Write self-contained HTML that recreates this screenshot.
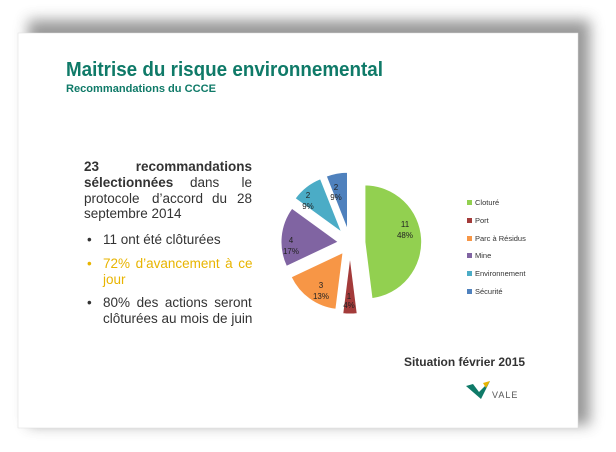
<!DOCTYPE html>
<html><head><meta charset="utf-8"><style>
html,body{margin:0;padding:0;background:#fff;}
svg{display:block;}
</style></head><body>
<svg width="616" height="452" viewBox="0 0 616 452" xmlns="http://www.w3.org/2000/svg" font-family="Liberation Sans, sans-serif">
<defs>
<filter id="sh" x="-10%" y="-10%" width="125%" height="125%">
<feGaussianBlur stdDeviation="7"/>
</filter>
</defs>
<rect x="0" y="0" width="616" height="452" fill="#fff"/>
<rect x="28" y="20" width="562" height="405" fill="#555" filter="url(#sh)" opacity="0.6"/>
<rect x="18" y="33" width="560" height="395" fill="#fff" stroke="#ddd" stroke-width="0.5"/>
<text x="66" y="76" font-size="20" font-weight="bold" fill="#0f7a68" textLength="317" lengthAdjust="spacingAndGlyphs">Maitrise du risque environnemental</text>
<text x="66" y="92" font-size="11" font-weight="bold" fill="#0f7a68" textLength="150" lengthAdjust="spacingAndGlyphs">Recommandations du CCCE</text>

<g font-size="13.5" fill="#333">
<text x="84" y="171" font-weight="bold">23</text>
<text x="252" y="171" font-weight="bold" text-anchor="end">recommandations</text>
<text x="84" y="187" font-weight="bold">sélectionnées</text>
<text x="190" y="187">dans</text>
<text x="252" y="187" text-anchor="end">le</text>
<text x="84" y="203">protocole</text>
<text x="152" y="203">d’accord</text>
<text x="212" y="203">du</text>
<text x="252" y="203" text-anchor="end">28</text>
<text x="84" y="218">septembre 2014</text>
<text x="87" y="244">•</text>
<text x="103" y="244">11 ont été clôturées</text>
<text x="87" y="268" fill="#e8b400">•</text>
<text x="103" y="268" fill="#e8b400" word-spacing="1.8">72% d’avancement à ce</text>
<text x="103" y="284" fill="#e8b400">jour</text>
<text x="87" y="307">•</text>
<text x="103" y="307" word-spacing="2.8">80% des actions seront</text>
<text x="103" y="323">clôturées au mois de juin</text>
</g>

<g stroke="#fff" stroke-width="0.8">
<path d="M365,242 L365,185 A57,57 0 0 1 372.1,298.5 Z" fill="#92d050"/>
<path d="M350,257 L357.1,313.5 A57,57 0 0 1 342.9,313.5 Z" fill="#a33b3a"/>
<path d="M342.9,252.7 L335.8,309.2 A57,57 0 0 1 291.3,277 Z" fill="#f79646"/>
<path d="M338.1,241.9 L286.5,266.2 A57,57 0 0 1 292,208.4 Z" fill="#8064a2"/>
<path d="M341.4,231.9 L295.3,198.4 A57,57 0 0 1 320.4,178.9 Z" fill="#4bacc6"/>
<path d="M347.4,229.3 L326.4,176.3 A57,57 0 0 1 347.4,172.3 Z" fill="#4f81bd"/>
</g>
<g font-size="8" fill="#222" text-anchor="middle">
<text x="405" y="227">11</text><text x="405" y="238">48%</text>
<text x="349" y="299">1</text><text x="349" y="308">4%</text>
<text x="321" y="288">3</text><text x="321" y="299">13%</text>
<text x="291" y="243">4</text><text x="291" y="254">17%</text>
<text x="308" y="198">2</text><text x="308" y="209">9%</text>
<text x="336" y="190">2</text><text x="336" y="200">9%</text>
</g>
<g font-size="7.5" fill="#333">
<rect x="467" y="200" width="5" height="5" fill="#92d050"/><text x="475" y="205">Cloturé</text>
<rect x="467" y="218" width="5" height="5" fill="#a33b3a"/><text x="475" y="223">Port</text>
<rect x="467" y="236" width="5" height="5" fill="#f79646"/><text x="475" y="241">Parc à Résidus</text>
<rect x="467" y="253" width="5" height="5" fill="#8064a2"/><text x="475" y="258">Mine</text>
<rect x="467" y="271" width="5" height="5" fill="#4bacc6"/><text x="475" y="276">Environnement</text>
<rect x="467" y="289" width="5" height="5" fill="#4f81bd"/><text x="475" y="294">Sécurité</text>
</g>
<text x="404" y="366" font-size="12" font-weight="bold" fill="#333" textLength="121" lengthAdjust="spacingAndGlyphs">Situation février 2015</text>
<path d="M466,386 L473,384 L479,392 L490,381 L481,399 Z" fill="#0f7a68"/>
<path d="M483,383 L490,381 L486,388 Z" fill="#e8b400"/>
<text x="492" y="398" font-size="9" fill="#555" letter-spacing="1">VALE</text>
</svg>
</body></html>
